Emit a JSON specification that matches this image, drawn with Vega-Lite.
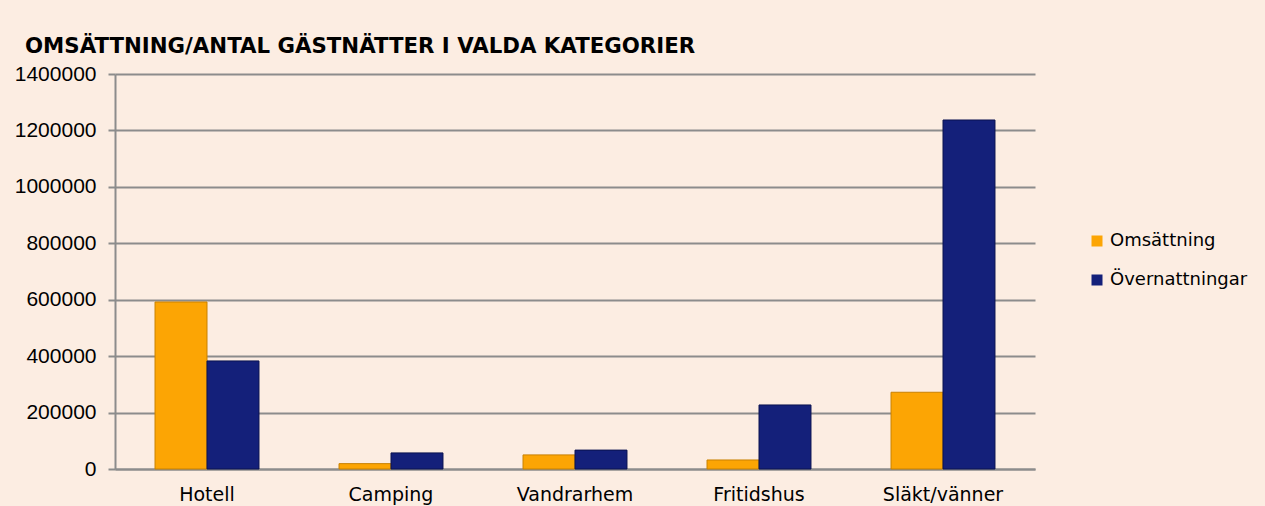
{
  "$schema": "https://vega.github.io/schema/vega-lite/v6.json",
  "autosize": "none",
  "width": 920,
  "height": 395,
  "padding": {"left": 115, "top": 74, "right": 230, "bottom": 37},
  "background": "#FCEDE2",
  "title": {
    "text": "OMSÄTTNING/ANTAL GÄSTNÄTTER I VALDA KATEGORIER",
    "anchor": "start",
    "frame": "group",
    "dx": -90,
    "offset": 6,
    "font": "DejaVu Sans",
    "fontSize": 21.3,
    "fontWeight": "bold",
    "color": "#000000"
  },
  "data": {
    "values": [
      {"kategori": "Hotell", "serie": "Omsättning", "varde": 592000},
      {"kategori": "Hotell", "serie": "Övernattningar", "varde": 383000},
      {"kategori": "Camping", "serie": "Omsättning", "varde": 19000},
      {"kategori": "Camping", "serie": "Övernattningar", "varde": 57000},
      {"kategori": "Vandrarhem", "serie": "Omsättning", "varde": 50000},
      {"kategori": "Vandrarhem", "serie": "Övernattningar", "varde": 67000},
      {"kategori": "Fritidshus", "serie": "Omsättning", "varde": 32000},
      {"kategori": "Fritidshus", "serie": "Övernattningar", "varde": 227000},
      {"kategori": "Släkt/vänner", "serie": "Omsättning", "varde": 272000},
      {"kategori": "Släkt/vänner", "serie": "Övernattningar", "varde": 1237000}
    ]
  },
  "mark": {"type": "bar", "strokeWidth": 1},
  "encoding": {
    "x": {
      "field": "kategori",
      "type": "nominal",
      "sort": ["Hotell", "Camping", "Vandrarhem", "Fritidshus", "Släkt/vänner"],
      "scale": {"paddingInner": 0.435, "paddingOuter": 0.2175},
      "axis": {
        "title": null,
        "labelAngle": 0,
        "ticks": false,
        "labelPadding": 16,
        "labelFont": "DejaVu Sans",
        "labelFontSize": 19,
        "labelColor": "#000000",
        "domainColor": "#8c8c8c",
        "domainWidth": 2
      }
    },
    "xOffset": {
      "field": "serie",
      "type": "nominal",
      "sort": ["Omsättning", "Övernattningar"],
      "scale": {"paddingInner": 0, "paddingOuter": 0}
    },
    "y": {
      "field": "varde",
      "type": "quantitative",
      "scale": {"domain": [0, 1400000], "nice": false},
      "axis": {
        "title": null,
        "values": [0, 200000, 400000, 600000, 800000, 1000000, 1200000, 1400000],
        "format": "d",
        "labelFont": "Liberation Sans",
        "labelFontSize": 21,
        "labelColor": "#000000",
        "labelPadding": 12,
        "tickSize": 7,
        "tickColor": "#8c8c8c",
        "tickWidth": 2,
        "domainColor": "#8c8c8c",
        "domainWidth": 2,
        "grid": true,
        "gridColor": "#8c8c8c",
        "gridWidth": 2
      }
    },
    "color": {
      "field": "serie",
      "type": "nominal",
      "sort": ["Omsättning", "Övernattningar"],
      "scale": {"domain": ["Omsättning", "Övernattningar"], "range": ["#FCA504", "#14207A"]},
      "legend": {
        "title": null,
        "orient": "none",
        "legendX": 973,
        "legendY": 158,
        "symbolType": "square",
        "symbolSize": 121,
        "symbolStrokeWidth": 0,
        "labelFont": "DejaVu Sans",
        "labelFontSize": 18,
        "labelColor": "#000000",
        "labelOffset": 4,
        "rowPadding": 21
      }
    },
    "stroke": {
      "field": "serie",
      "type": "nominal",
      "scale": {"domain": ["Omsättning", "Övernattningar"], "range": ["#C98100", "#0A1250"]},
      "legend": null
    }
  },
  "config": {
    "view": {"stroke": null}
  }
}
